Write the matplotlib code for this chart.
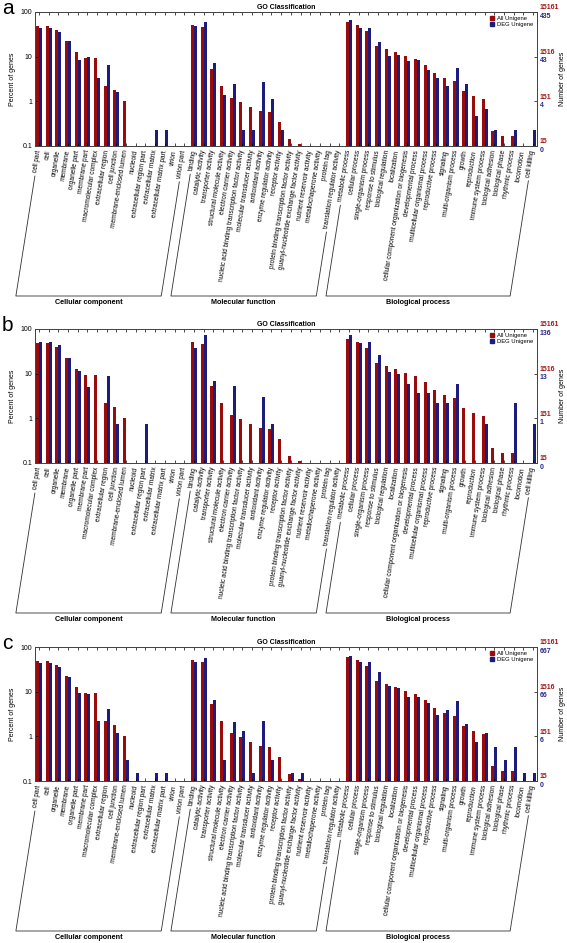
import numpy as np
import matplotlib
matplotlib.use('Agg')
import matplotlib.pyplot as plt
from matplotlib.lines import Line2D
from matplotlib.patches import Patch
from matplotlib.ticker import NullLocator

plt.rcParams['font.family'] = ['Liberation Sans', 'DejaVu Sans']

nan = np.nan

# GO terms, in plotting order
cc_terms = ['cell part', 'cell', 'organelle', 'membrane', 'organelle part',
            'membrane part', 'macromolecular complex', 'extracellular region',
            'cell junction', 'membrane-enclosed lumen', 'nucleoid',
            'extracellular region part', 'extracellular matrix',
            'extracellular matrix part', 'virion', 'virion part']
mf_terms = ['binding', 'catalytic activity', 'transporter activity',
            'structural molecule activity', 'electron carrier activity',
            'nucleic acid binding transcription factor activity',
            'molecular transducer activity', 'antioxidant activity',
            'enzyme regulator activity', 'receptor activity',
            'protein binding transcription factor activity',
            'guanyl-nucleotide exchange factor activity',
            'nutrient reservoir activity', 'metallochaperone activity',
            'protein tag', 'translation regulator activity']
bp_terms = ['metabolic process', 'cellular process', 'single-organism process',
            'response to stimulus', 'biological regulation', 'localization',
            'cellular component organization or biogenesis',
            'developmental process', 'multicellular organismal process',
            'reproductive process', 'signaling', 'multi-organism process',
            'growth', 'reproduction', 'immune system process',
            'biological adhesion', 'biological phase', 'rhythmic process',
            'locomotion', 'cell killing']
terms = cc_terms + mf_terms + bp_terms
groups = ['Cellular component', 'Molecular function', 'Biological process']
group_sizes = [len(cc_terms), len(mf_terms), len(bp_terms)]

# percent of genes - All Unigene (same in every panel)
all_unigene = [48.6, 48.6, 40, 22.4, 13, 9.1, 9.1, 2.15, 1.8, 1.0, nan, nan, nan, nan, nan, nan,
               51, 46.5, 5.4, 2.2, 1.2, 0.96, 0.74, 0.61, 0.59, 0.34, 0.143, 0.109, nan, nan, nan, nan,
               60, 51.5, 38.5, 17.3, 14.7, 12.4, 10.5, 8.9, 6.6, 4.35, 3.25, 2.9, 1.67, 1.35, 1.14,
               0.215, 0.168, 0.168, nan, nan]

# percent of genes - DEG Unigene, one list per panel
deg_a = [44.6, 44.6, 35, 22.8, 8.4, 10, 3.4, 6.6, 1.59, nan, nan, nan, 0.23, 0.23, nan, nan,
         47.8, 59.7, 7.3, 1.38, 2.5, 0.23, 0.23, 2.7, 1.15, 0.23, nan, nan, nan, nan, nan, nan,
         65, 44, 43, 21.7, 10.5, 11.1, 8.0, 8.4, 5.0, 3.4, 2.2, 5.7, 2.5, 0.46, 0.69,
         0.23, nan, 0.23, nan, 0.23]
deg_b = [51, 51, 43, 22, 11.3, 5.1, nan, 8.9, 0.73, nan, nan, 0.73, nan, nan, nan, nan,
         37.6, 73.5, 6.7, nan, 5.2, nan, nan, 2.95, 0.73, nan, nan, nan, nan, nan, nan, nan,
         74.7, 47.8, 51, 26.2, 11.1, 9.7, 6.0, 3.7, 3.7, 2.2, 2.2, 6.0, nan, nan, 0.73,
         nan, nan, 2.2, nan, 0.73]
deg_c = [43.8, 43.8, 35, 21.3, 9.2, 8.7, 2.2, 4.0, 1.19, 0.3, 0.15, nan, 0.15, 0.15, nan, nan,
         46, 57.7, 6.6, 0.3, 2.06, 1.32, 0.15, 2.2, 0.3, nan, 0.15, 0.15, nan, nan, nan, nan,
         63, 47, 46, 27.5, 13.4, 11.9, 7.6, 7.6, 5.6, 3.0, 3.8, 6.2, 1.92, 0.73, 1.19,
         0.59, 0.3, 0.59, 0.15, 0.15]

# right axis "Number of genes" labels
red_ticks = ['15', '151', '1516', '15161']
blue_ticks_a = ['0', '4', '43', '435']
blue_ticks_b = ['0', '1', '13', '136']
blue_ticks_c = ['0', '6', '66', '667']

W, H = 567, 943
AX_L, AX_R, AX_H = 35, 537, 134
RED = '#9a0c0c'
BLUE = '#1c1c7e'
bw = 0.31

fig = plt.figure(figsize=(W / 100, H / 100), dpi=100)


def draw_panel(top_px, letter, deg, blue_ticks):
    ax = fig.add_axes([AX_L / W, 1 - (top_px + AX_H) / H, (AX_R - AX_L) / W, AX_H / H])
    x = np.arange(len(terms))
    ax.bar(x - bw / 2, np.array(all_unigene) - 0.1, bw, bottom=0.1, color=RED, linewidth=0)
    ax.bar(x + bw / 2, np.array(deg) - 0.1, bw, bottom=0.1, color=BLUE, linewidth=0)
    ax.set_yscale('log')
    ax.set_ylim(0.1, 100)
    ax.set_xlim(-0.4, len(terms) - 0.6)
    ax.set_yticks([0.1, 1, 10, 100])
    ax.set_yticklabels(['0.1', '1', '10', '100'])
    ax.yaxis.set_minor_locator(NullLocator())
    ax.set_xticks(x)
    ax.set_xticklabels(terms, rotation=81, ha='right', va='center',
                       rotation_mode='anchor', fontsize=4.7)
    ax.tick_params(axis='x', top=True, direction='in', length=2, width=0.5, pad=3)
    ax.tick_params(axis='y', right=True, direction='in', length=2.5, width=0.5,
                   labelsize=5, pad=2)
    for s in ax.spines.values():
        s.set_linewidth(0.7)
        s.set_color('#404040')
    ax.set_ylabel('Percent of genes', fontsize=5, labelpad=3)
    ax.set_title('GO Classification', fontsize=5, fontweight='bold', pad=2.5)

    tr = ax.get_yaxis_transform()
    for v, rl, bl in zip([0.1, 1, 10, 100], red_ticks, blue_ticks):
        ax.annotate(rl, xy=(1, v), xycoords=tr, xytext=(2, 3), textcoords='offset points',
                    ha='left', va='center', fontsize=5, fontweight='bold', color='#a81818')
        ax.annotate(bl, xy=(1, v), xycoords=tr, xytext=(2, -3), textcoords='offset points',
                    ha='left', va='center', fontsize=5, fontweight='bold', color='#2a2a8c')
    fig.text(562 / W, 1 - (top_px + AX_H / 2) / H, 'Number of genes', rotation=90,
             ha='center', va='center', fontsize=5)

    handles = [Patch(color=RED), Patch(color=BLUE)]
    ax.legend(handles, ['All Unigene', 'DEG Unigene'], loc='upper right', frameon=False,
              fontsize=4.2, handlelength=0.7, handleheight=0.7, handletextpad=0.4,
              borderaxespad=0.3, labelspacing=0.15)

    fig.text(2 / W, 1 - (top_px + 2) / H, letter, fontsize=15, va='baseline', ha='left')
    return ax


def draw_brackets(ax, base_px):
    renderer = fig.canvas.get_renderer()
    labels = ax.xaxis.get_ticklabels()
    yb = H - base_px
    ang = np.deg2rad(81)
    start = 0
    for name, n in zip(groups, group_sizes):
        first = labels[start].get_window_extent(renderer)
        last = labels[start + n - 1].get_window_extent(renderer)
        x1, y1 = first.x0 + 3, first.y0 - 3
        x2, y2 = last.x0 + 3, last.y0 - 3
        x1b = x1 - (y1 - yb) / np.tan(ang)
        x2b = x2 - (y2 - yb) / np.tan(ang)
        fig.add_artist(Line2D([x1 / W, x1b / W, x2b / W, x2 / W],
                              [y1 / H, yb / H, yb / H, y2 / H],
                              transform=fig.transFigure, color='#303030', lw=0.6))
        fig.text((x1b + x2b) / 2 / W, (yb - 3) / H, name, ha='center', va='top',
                 fontsize=5.2, fontweight='bold')
        start += n


panel_tops = [12, 329, 647]
ax_a = draw_panel(panel_tops[0], 'a', deg_a, blue_ticks_a)
ax_b = draw_panel(panel_tops[1], 'b', deg_b, blue_ticks_b)
ax_c = draw_panel(panel_tops[2], 'c', deg_c, blue_ticks_c)

fig.canvas.draw()
for ax, top in zip([ax_a, ax_b, ax_c], panel_tops):
    draw_brackets(ax, top + AX_H + 150)

fig.savefig('out.png', dpi=100)
